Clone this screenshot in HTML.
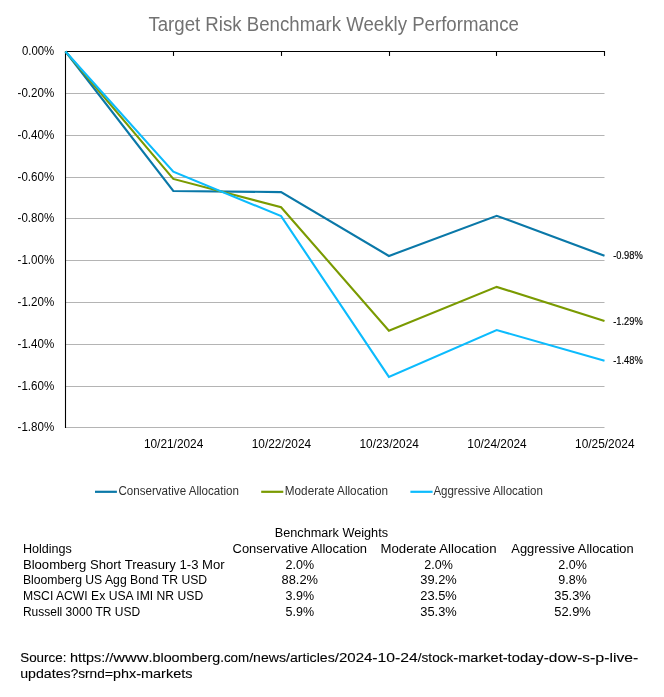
<!DOCTYPE html>
<html lang="en"><head><meta charset="utf-8"><title>Target Risk Benchmark Weekly Performance</title>
<style>
html,body{margin:0;padding:0;background:#fff;}
body{width:664px;height:697px;overflow:hidden;}
svg{display:block;will-change:transform;transform:translateZ(0);font-family:"Liberation Sans",Arial,sans-serif;}
.ax{font-size:13px;fill:#000;}
.lg{font-size:12.6px;fill:#303030;}
.tb{font-size:12.3px;fill:#000;}
.dl{font-size:10px;fill:#000;stroke:#000;stroke-width:0.15px;}
.src{font-size:13.7px;fill:#000;stroke:#000;stroke-width:0.1px;}
</style></head><body>
<svg width="664" height="697" viewBox="0 0 664 697">
<rect width="664" height="697" fill="#fff"/>
<text x="148.4" y="30.6" font-size="19.6" fill="#727272" textLength="370.5" lengthAdjust="spacingAndGlyphs">Target Risk Benchmark Weekly Performance</text>
<g stroke="#b4b4b4" stroke-width="1" shape-rendering="auto">
<line x1="65.5" x2="604.5" y1="93.50" y2="93.50"/>
<line x1="65.5" x2="604.5" y1="135.50" y2="135.50"/>
<line x1="65.5" x2="604.5" y1="177.50" y2="177.50"/>
<line x1="65.5" x2="604.5" y1="218.50" y2="218.50"/>
<line x1="65.5" x2="604.5" y1="260.50" y2="260.50"/>
<line x1="65.5" x2="604.5" y1="302.50" y2="302.50"/>
<line x1="65.5" x2="604.5" y1="344.50" y2="344.50"/>
<line x1="65.5" x2="604.5" y1="386.50" y2="386.50"/>
<line x1="65.5" x2="604.5" y1="427.50" y2="427.50"/>
</g>
<text class="ax" x="54.2" y="55.0" text-anchor="end" textLength="32.3" lengthAdjust="spacingAndGlyphs">0.00%</text>
<text class="ax" x="54.2" y="97.0" text-anchor="end" textLength="36.6" lengthAdjust="spacingAndGlyphs">-0.20%</text>
<text class="ax" x="54.2" y="139.0" text-anchor="end" textLength="36.6" lengthAdjust="spacingAndGlyphs">-0.40%</text>
<text class="ax" x="54.2" y="181.0" text-anchor="end" textLength="36.6" lengthAdjust="spacingAndGlyphs">-0.60%</text>
<text class="ax" x="54.2" y="222.0" text-anchor="end" textLength="36.6" lengthAdjust="spacingAndGlyphs">-0.80%</text>
<text class="ax" x="54.2" y="264.0" text-anchor="end" textLength="36.6" lengthAdjust="spacingAndGlyphs">-1.00%</text>
<text class="ax" x="54.2" y="306.0" text-anchor="end" textLength="36.6" lengthAdjust="spacingAndGlyphs">-1.20%</text>
<text class="ax" x="54.2" y="348.0" text-anchor="end" textLength="36.6" lengthAdjust="spacingAndGlyphs">-1.40%</text>
<text class="ax" x="54.2" y="390.0" text-anchor="end" textLength="36.6" lengthAdjust="spacingAndGlyphs">-1.60%</text>
<text class="ax" x="54.2" y="431.0" text-anchor="end" textLength="36.6" lengthAdjust="spacingAndGlyphs">-1.80%</text>
<text class="ax" x="173.6" y="448.2" text-anchor="middle" textLength="59.4" lengthAdjust="spacingAndGlyphs">10/21/2024</text>
<text class="ax" x="281.4" y="448.2" text-anchor="middle" textLength="59.4" lengthAdjust="spacingAndGlyphs">10/22/2024</text>
<text class="ax" x="389.2" y="448.2" text-anchor="middle" textLength="59.4" lengthAdjust="spacingAndGlyphs">10/23/2024</text>
<text class="ax" x="497.0" y="448.2" text-anchor="middle" textLength="59.4" lengthAdjust="spacingAndGlyphs">10/24/2024</text>
<text class="ax" x="604.8" y="448.2" text-anchor="middle" textLength="59.4" lengthAdjust="spacingAndGlyphs">10/25/2024</text>
<g stroke="#000" stroke-width="1.1" stroke-linecap="square">
<line x1="65.5" x2="65.5" y1="51.5" y2="427.5"/>
<line x1="65.5" x2="604.5" y1="51.5" y2="51.5"/>
<line x1="173.5" x2="173.5" y1="52.1" y2="55.4"/>
<line x1="281.5" x2="281.5" y1="52.1" y2="55.4"/>
<line x1="389.5" x2="389.5" y1="52.1" y2="55.4"/>
<line x1="496.5" x2="496.5" y1="52.1" y2="55.4"/>
<line x1="604.5" x2="604.5" y1="52.1" y2="55.4"/>
</g>
<g fill="none" stroke-width="2.1" stroke-linejoin="miter" stroke-linecap="butt">
<polyline stroke="#0a78a8" points="65.5,51.5 173.3,191.0 281.1,192.1 388.9,256.0 496.7,215.8 604.5,255.8"/>
<polyline stroke="#7a9a01" points="65.5,51.5 173.3,178.9 281.1,207.2 388.9,330.7 496.7,286.9 604.5,320.9"/>
<polyline stroke="#0cbbfd" points="65.5,51.5 173.3,171.7 281.1,216.1 388.9,376.9 496.7,330.0 604.5,360.7"/>
</g>
<text class="dl" x="613.2" y="259.0" textLength="29.5" lengthAdjust="spacingAndGlyphs">-0.98%</text>
<text class="dl" x="613.2" y="325.0" textLength="29.5" lengthAdjust="spacingAndGlyphs">-1.29%</text>
<text class="dl" x="613.2" y="364.0" textLength="29.5" lengthAdjust="spacingAndGlyphs">-1.48%</text>
<line x1="95.0" x2="116.9" y1="491.8" y2="491.8" stroke="#0a78a8" stroke-width="2.2"/>
<text class="lg" x="118.4" y="495" textLength="120.6" lengthAdjust="spacingAndGlyphs">Conservative Allocation</text>
<line x1="261.2" x2="283.3" y1="491.8" y2="491.8" stroke="#7a9a01" stroke-width="2.2"/>
<text class="lg" x="284.8" y="495" textLength="103.2" lengthAdjust="spacingAndGlyphs">Moderate Allocation</text>
<line x1="410.4" x2="432.6" y1="491.8" y2="491.8" stroke="#0cbbfd" stroke-width="2.2"/>
<text class="lg" x="433.4" y="495" textLength="109.4" lengthAdjust="spacingAndGlyphs">Aggressive Allocation</text>
<text class="tb" x="331.4" y="536.9" text-anchor="middle" textLength="113.3" lengthAdjust="spacingAndGlyphs">Benchmark Weights</text>
<text class="tb" x="22.9" y="552.7" textLength="49" lengthAdjust="spacingAndGlyphs">Holdings</text>
<text class="tb" x="22.9" y="568.5" textLength="201.8" lengthAdjust="spacingAndGlyphs">Bloomberg Short Treasury 1-3 Mor</text>
<text class="tb" x="22.9" y="584.4" textLength="184.3" lengthAdjust="spacingAndGlyphs">Bloomberg US Agg Bond TR USD</text>
<text class="tb" x="22.9" y="599.9" textLength="180.3" lengthAdjust="spacingAndGlyphs">MSCI ACWI Ex USA IMI NR USD</text>
<text class="tb" x="22.9" y="615.6" textLength="117.3" lengthAdjust="spacingAndGlyphs">Russell 3000 TR USD</text>
<text class="tb" x="299.8" y="552.7" text-anchor="middle" textLength="134.5" lengthAdjust="spacingAndGlyphs">Conservative Allocation</text>
<text class="tb" x="299.8" y="568.5" text-anchor="middle" textLength="28.5" lengthAdjust="spacingAndGlyphs">2.0%</text>
<text class="tb" x="299.8" y="584.4" text-anchor="middle" textLength="36.5" lengthAdjust="spacingAndGlyphs">88.2%</text>
<text class="tb" x="299.8" y="599.9" text-anchor="middle" textLength="28.5" lengthAdjust="spacingAndGlyphs">3.9%</text>
<text class="tb" x="299.8" y="615.6" text-anchor="middle" textLength="28.5" lengthAdjust="spacingAndGlyphs">5.9%</text>
<text class="tb" x="438.5" y="552.7" text-anchor="middle" textLength="116" lengthAdjust="spacingAndGlyphs">Moderate Allocation</text>
<text class="tb" x="438.5" y="568.5" text-anchor="middle" textLength="28.5" lengthAdjust="spacingAndGlyphs">2.0%</text>
<text class="tb" x="438.5" y="584.4" text-anchor="middle" textLength="36.5" lengthAdjust="spacingAndGlyphs">39.2%</text>
<text class="tb" x="438.5" y="599.9" text-anchor="middle" textLength="36.5" lengthAdjust="spacingAndGlyphs">23.5%</text>
<text class="tb" x="438.5" y="615.6" text-anchor="middle" textLength="36.5" lengthAdjust="spacingAndGlyphs">35.3%</text>
<text class="tb" x="572.5" y="552.7" text-anchor="middle" textLength="122.3" lengthAdjust="spacingAndGlyphs">Aggressive Allocation</text>
<text class="tb" x="572.5" y="568.5" text-anchor="middle" textLength="28.5" lengthAdjust="spacingAndGlyphs">2.0%</text>
<text class="tb" x="572.5" y="584.4" text-anchor="middle" textLength="28.5" lengthAdjust="spacingAndGlyphs">9.8%</text>
<text class="tb" x="572.5" y="599.9" text-anchor="middle" textLength="36.5" lengthAdjust="spacingAndGlyphs">35.3%</text>
<text class="tb" x="572.5" y="615.6" text-anchor="middle" textLength="36.5" lengthAdjust="spacingAndGlyphs">52.9%</text>
<text class="src" y="662.3"><tspan x="20.2" textLength="46.2" lengthAdjust="spacingAndGlyphs">Source:</tspan> <tspan x="69.9" textLength="43.4" lengthAdjust="spacingAndGlyphs">https://</tspan><tspan x="113.3" textLength="35.2" lengthAdjust="spacingAndGlyphs">www</tspan><tspan x="148.5" textLength="71.7" lengthAdjust="spacingAndGlyphs">.bloomberg</tspan><tspan x="220.2" textLength="29.0" lengthAdjust="spacingAndGlyphs">.com</tspan><tspan x="249.2" textLength="36.8" lengthAdjust="spacingAndGlyphs">/news</tspan><tspan x="286.0" textLength="48.8" lengthAdjust="spacingAndGlyphs">/articles</tspan><tspan x="334.8" textLength="37.6" lengthAdjust="spacingAndGlyphs">/2024</tspan><tspan x="372.3" textLength="22.8" lengthAdjust="spacingAndGlyphs">-10</tspan><tspan x="395.1" textLength="22.8" lengthAdjust="spacingAndGlyphs">-24</tspan><tspan x="417.8" textLength="35.5" lengthAdjust="spacingAndGlyphs">/stock</tspan><tspan x="453.3" textLength="49.4" lengthAdjust="spacingAndGlyphs">-market</tspan><tspan x="502.7" textLength="41.0" lengthAdjust="spacingAndGlyphs">-today</tspan><tspan x="543.7" textLength="33.5" lengthAdjust="spacingAndGlyphs">-dow</tspan><tspan x="577.2" textLength="12.7" lengthAdjust="spacingAndGlyphs">-s</tspan><tspan x="589.9" textLength="14.3" lengthAdjust="spacingAndGlyphs">-p</tspan><tspan x="604.2" textLength="34.0" lengthAdjust="spacingAndGlyphs">-live-</tspan></text>
<text class="src" y="678.3"><tspan x="20.2" textLength="50.5" lengthAdjust="spacingAndGlyphs">updates</tspan><tspan x="70.7" textLength="34.1" lengthAdjust="spacingAndGlyphs">?srnd</tspan><tspan x="104.7" textLength="31.5" lengthAdjust="spacingAndGlyphs">=phx</tspan><tspan x="136.2" textLength="56.3" lengthAdjust="spacingAndGlyphs">-markets</tspan></text>
</svg>
</body></html>
